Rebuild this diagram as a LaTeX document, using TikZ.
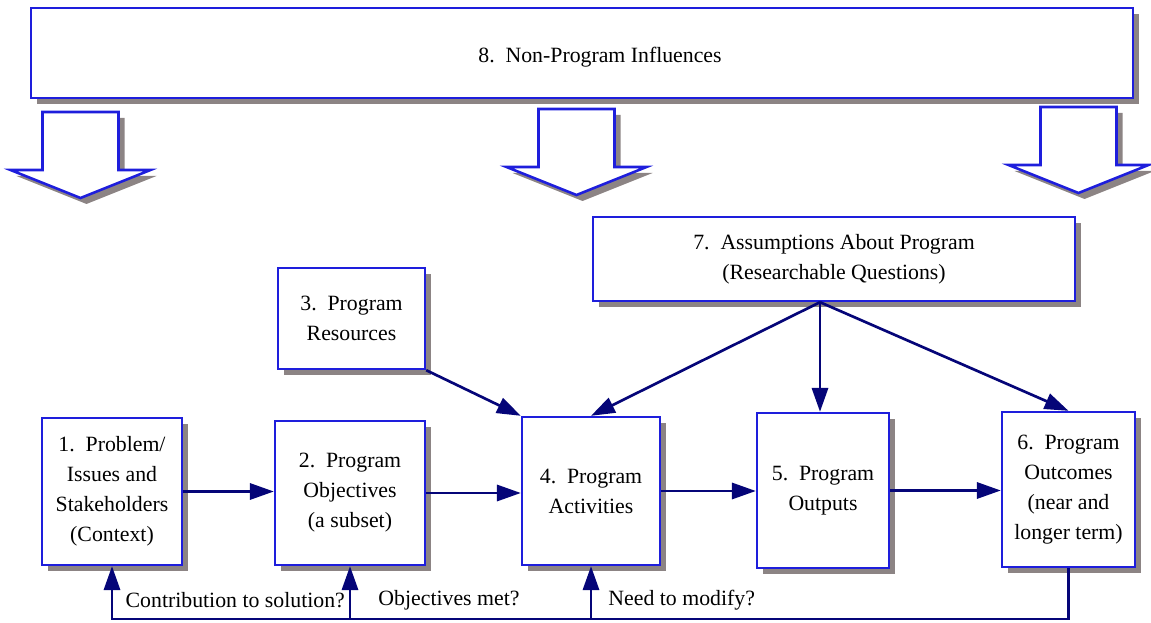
\documentclass[tikz,border=0pt]{standalone}
\usepackage{fontspec}
\setmainfont{Liberation Serif}
\usetikzlibrary{arrows.meta, shadows, calc}
\definecolor{box-draw}{RGB}{30,30,220}
\definecolor{link-color}{RGB}{5,5,120}
\definecolor{shadow-gray}{RGB}{140,132,132}
\tikzset{
  stage/.style={draw=box-draw, line width=1.7pt, fill=white, align=center, inner sep=2pt,
    font=\fontsize{15.5}{21.3}\selectfont,
    drop shadow={shadow xshift=0.15cm, shadow yshift=-0.15cm, fill=shadow-gray, opacity=1}},
  influence/.style={draw=box-draw, line width=1.8pt, fill=white, line join=miter,
    drop shadow={shadow xshift=0.15cm, shadow yshift=-0.15cm, fill=shadow-gray, opacity=1}},
  link/.style={draw=link-color, line width=1.9pt, -{Triangle[length=17pt, width=11.5pt]}},
  query/.style={font=\fontsize{15.5}{21.3}\selectfont, anchor=west, inner sep=1pt}
}

\begin{document}
\begin{tikzpicture}
    \useasboundingbox (0,0) rectangle (28.775,15.55);

    % Outside influences band
    \node[stage, minimum width=27.55cm, minimum height=2.25cm,
          label={[font=\fontsize{15.5}{21.3}\selectfont, xshift=0.45cm, yshift=-0.1cm]center:8.\ \ Non-Program Influences}] (infl) at (14.55,14.225) {};

    % Block arrows hanging from the band
    \foreach \x/\y in {2.0125/12.75, 14.4125/12.825, 26.9625/12.875} {
        \draw[influence] (\x-0.95,\y) -- ++(1.9,0) -- ++(0,-1.45) -- ++(0.8,0) -- (\x,\y-2.15) -- ++(-1.75,0.7) -- ++(0.8,0) -- cycle;
    }

    % Upper boxes
    \node[stage, minimum width=12.05cm, minimum height=2.1cm] (asm) at (20.85,9.075) {7.\ \ Assumptions About Program\\(Researchable Questions)};
    \node[stage, minimum width=3.675cm, minimum height=2.525cm] (res) at (8.7875,7.5875) {3.\ \ Program\\Resources};

    % Main chain
    \node[stage, minimum width=3.5cm, minimum height=3.675cm] (prob) at (2.8,3.2625) {1.\ \ Problem/\\Issues and\\Stakeholders\\(Context)};
    \node[stage, minimum width=3.75cm, minimum height=3.6cm] (obj) at (8.75,3.225) {2.\ \ Program\\Objectives\\(a subset)};
    \node[stage, minimum width=3.45cm, minimum height=3.7cm] (act) at (14.775,3.275) {4.\ \ Program\\Activities};
    \node[stage, minimum width=3.3cm, minimum height=3.875cm] (outp) at (20.575,3.2875) {5.\ \ Program\\Outputs};
    \node[stage, minimum width=3.325cm, minimum height=3.875cm] (outc) at (26.7125,3.3125) {6.\ \ Program\\Outcomes\\(near and\\longer term)};

    \draw[link] (prob.east) -- (prob.east -| obj.west);
    \draw[link] (obj.east) -- (obj.east -| act.west);
    \draw[link] (act.east) -- (act.east -| outp.west);
    \draw[link] (outp.east) -- (outp.east -| outc.west);

    % Resources and assumptions feeding in
    \draw[link] (res.south east) -- (act.north west);
    \coordinate (fork) at ([xshift=-0.35cm]asm.south);
    \draw[link] (fork) -- (act.north);
    \draw[link] (fork) -- (fork |- outp.north);
    \draw[link] (fork) -- (outc.north);

    % Feedback loop along the bottom
    \coordinate (base) at (0,0.075);
    \draw[link] (outc.south) -- (outc.south |- base) -- (prob.south |- base) -- (prob.south);
    \draw[link] (obj.south |- base) -- (obj.south);
    \draw[link] (act.south |- base) -- (act.south);

    \node[query] (q1) at (3.1,0.55) {Contribution to solution?};
    \node[query] (q2) at (9.42,0.55) {Objectives met?};
    \node[query] (q3) at (15.17,0.55) {Need to modify?};
\end{tikzpicture}
\end{document}
